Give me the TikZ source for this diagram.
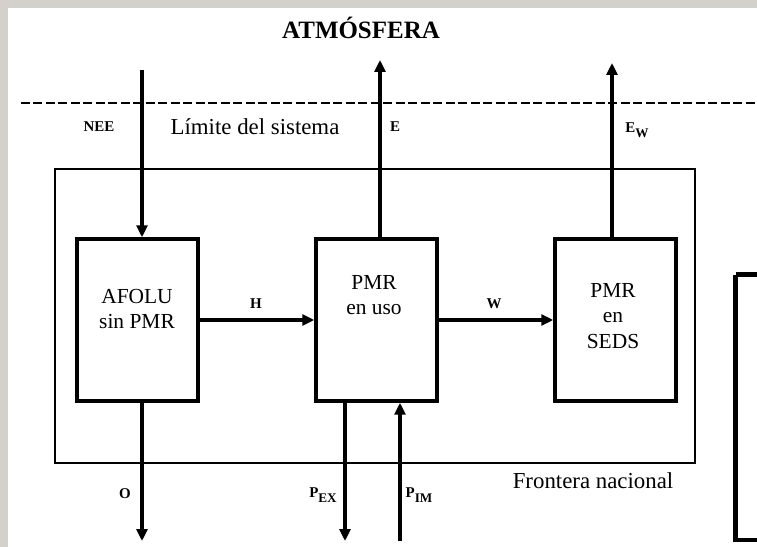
\documentclass[tikz,border=0pt]{standalone}
\usepackage{fontspec}
\setmainfont{Liberation Serif}
\usetikzlibrary{arrows.meta, calc, positioning}
\definecolor{marco}{RGB}{212,209,204}

\begin{document}
\begin{tikzpicture}[x=0.02cm, y=-0.02cm, >={Triangle[length=0.24cm, width=0.22cm]},
    caja/.style={draw, line width=2pt, minimum width=2.42cm, minimum height=3.24cm, inner sep=0pt},
    texto/.style={font=\fontsize{12.2}{14.5}\selectfont, align=center, inner sep=0pt},
    rotulo/.style={font=\fontsize{13}{15}\selectfont, inner sep=0pt},
    flujo/.style={font=\bfseries\fontsize{8.5}{10}\selectfont, inner sep=0pt},
    flecha/.style={->, line width=2pt}]
    % 1. Fondo y marco
    \fill[marco] (0,0) rectangle (757,547);
    \fill[white] (8,8) rectangle (757,547);
    \useasboundingbox (0,0) rectangle (757,547);

    % 2. Atmosfera y limites
    \node[font=\bfseries\fontsize{14.2}{16}\selectfont] (atm) at (361,28) {ATMÓSFERA};
    \draw[line width=1.3pt, dash pattern=on 0.18cm off 0.07cm] (21,103) -- (757,103);
    \draw[line width=0.9pt] (55,169) rectangle (695,463);
    \draw[line width=2.8pt] (735.5,274.5) -- (770,274.5);
    \draw[line width=2.8pt] (770,540) -- (735.5,540) -- (735.5,274.5);
    \node[rotulo] (limite) at (255,127) {Límite del sistema};
    \node[rotulo] (frontera) at (593,481) {Frontera nacional};

    % 3. Cajas
    \node[caja] (afolu) at (137.5,320) {};
    \node[caja] (uso) at (376.5,320) {};
    \node[caja] (seds) at (615.5,320) {};
    \node[texto] (tafolu) at (137,309) {AFOLU\\sin PMR};
    \node[texto] (tuso) at (374,295) {PMR\\en uso};
    \node[texto, font=\fontsize{12.2}{14.5}\selectfont] (tseds) at (613,316) {PMR\\en\\SEDS};

    % 4. Flujos
    \coordinate (nee) at (142,70);
    \coordinate (e) at (380,60);
    \coordinate (ew) at (612,63);
    \coordinate (o) at (142,541);
    \coordinate (pex) at (345,541);
    \coordinate (pim) at (400,541);
    \draw[flecha] (nee) -- (nee |- afolu.north);
    \draw[flecha] (e |- uso.north) -- (e);
    \draw[flecha] (ew |- seds.north) -- (ew);
    \draw[flecha] (afolu.east) -- (uso.west);
    \draw[flecha] (uso.east) -- (seds.west);
    \draw[flecha] (o |- afolu.south) -- (o);
    \draw[flecha] (pex |- uso.south) -- (pex);
    \draw[flecha] (pim) -- (pim |- uso.south);

    % 5. Etiquetas
    \node[flujo] (lnee) at (99,127) {NEE};
    \node[flujo] (le) at (395,127) {E};
    \node[flujo] (lew) at (637,130) {E\raisebox{-0.7ex}{\fontsize{7.5}{8}\selectfont W}};
    \node[flujo] (lh) at (256,304) {H};
    \node[flujo] (lw) at (494,304) {W};
    \node[flujo] (lo) at (125,494) {O};
    \node[flujo] (lpex) at (323,495) {P\raisebox{-0.7ex}{\fontsize{7.5}{8}\selectfont EX}};
    \node[flujo] (lpim) at (419,495) {P\raisebox{-0.7ex}{\fontsize{7.5}{8}\selectfont IM}};
\end{tikzpicture}
\end{document}
